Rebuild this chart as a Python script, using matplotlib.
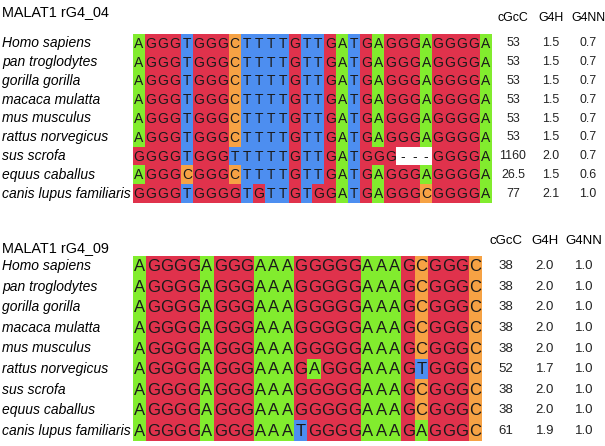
import matplotlib
matplotlib.use("Agg")
import matplotlib.pyplot as plt
import numpy as np
from matplotlib.colors import ListedColormap

species = ["Homo sapiens", "pan troglodytes", "gorilla gorilla", "macaca mulatta",
           "mus musculus", "rattus norvegicus", "sus scrofa", "equus caballus",
           "canis lupus familiaris"]

seq_04 = ["AGGGTGGGCTTTTGTTGATGAGGGAGGGGA",
          "AGGGTGGGCTTTTGTTGATGAGGGAGGGGA",
          "AGGGTGGGCTTTTGTTGATGAGGGAGGGGA",
          "AGGGTGGGCTTTTGTTGATGAGGGAGGGGA",
          "AGGGTGGGCTTTTGTTGATGAGGGAGGGGA",
          "AGGGTGGGCTTTTGTTGATGAGGGAGGGGA",
          "GGGGTGGGTTTTTGTTGATGGG---GGGGA",
          "AGGGCGGGCTTTTGTTGATGAGGGAGGGGA",
          "GGGGTGGGGTGTTGTGGATGAGGGCGGGGA"]
cgcc_04 = ["53", "53", "53", "53", "53", "53", "1160", "26.5", "77"]
g4h_04 = ["1.5", "1.5", "1.5", "1.5", "1.5", "1.5", "2.0", "1.5", "2.1"]
g4nn_04 = ["0.7", "0.7", "0.7", "0.7", "0.7", "0.7", "0.7", "0.6", "1.0"]

seq_09 = ["AGGGGAGGGAAAGGGGGAAAGCGGGC",
          "AGGGGAGGGAAAGGGGGAAAGCGGGC",
          "AGGGGAGGGAAAGGGGGAAAGCGGGC",
          "AGGGGAGGGAAAGGGGGAAAGCGGGC",
          "AGGGGAGGGAAAGGGGGAAAGCGGGC",
          "AGGGGAGGGAAAGAGGGAAAGTGGGC",
          "AGGGGAGGGAAAGGGGGAAAGCGGGC",
          "AGGGGAGGGAAAGGGGGAAAGCGGGC",
          "AGGGGAGGGAAATGGGGAAAGAGGGC"]
cgcc_09 = ["38", "38", "38", "38", "38", "52", "38", "38", "61"]
g4h_09 = ["2.0", "2.0", "2.0", "2.0", "2.0", "1.7", "2.0", "2.0", "1.9"]
g4nn_09 = ["1.0"] * 9

headers = ["cGcC", "G4H", "G4NN"]

base_codes = {"A": 0, "C": 1, "G": 2, "T": 3, "-": 4}
cmap = ListedColormap(["#82ec2e", "#f6a244", "#e0324c", "#4d8ef0", "#ffffff"])

fig = plt.figure(figsize=(6.05, 4.46), dpi=100)
ax = fig.add_axes([0, 0, 1, 1])
ax.set_xlim(0, 605)
ax.set_ylim(446, 0)
ax.axis("off")

font = "Liberation Sans"


def draw_block(title, title_y, seqs, vals, x0, x1, top, bottom, seq_fs,
               head_y, num_x, num_fs):
    ax.text(2, title_y, title, fontsize=10.4, family=font, va="center", ha="left")
    ncol = len(seqs[0])
    mat = np.array([[base_codes[c] for c in s] for s in seqs])
    ax.imshow(mat, cmap=cmap, vmin=0, vmax=4, aspect="auto",
              extent=[x0, x1, bottom, top], interpolation="nearest")
    cw = (x1 - x0) / ncol
    rh = (bottom - top) / len(seqs)
    for i, s in enumerate(seqs):
        y = top + (i + 0.5) * rh
        ax.text(2, y, species[i], fontsize=10, family=font, style="italic",
                va="center", ha="left")
        for j, c in enumerate(s):
            ax.text(x0 + (j + 0.5) * cw, y + 0.5, c, fontsize=seq_fs, family=font,
                    va="center", ha="center", color="#1a1a1a")
        for k, col in enumerate(vals):
            ax.text(num_x[k], y, col[i], fontsize=num_fs, family=font,
                    va="center", ha="center", color="#222222")
    for k, h in enumerate(headers):
        ax.text(num_x[k], head_y, h, fontsize=num_fs, family=font,
                va="center", ha="center")


draw_block("MALAT1 rG4_04", 12, seq_04, [cgcc_04, g4h_04, g4nn_04],
           133, 492, 34, 203, 10, 18, [513, 551, 588], 8.9)
draw_block("MALAT1 rG4_09", 248, seq_09, [cgcc_09, g4h_09, g4nn_09],
           133, 482, 256, 441, 12, 241, [506, 545, 584], 9.5)

fig.savefig("out.png", dpi=100)
